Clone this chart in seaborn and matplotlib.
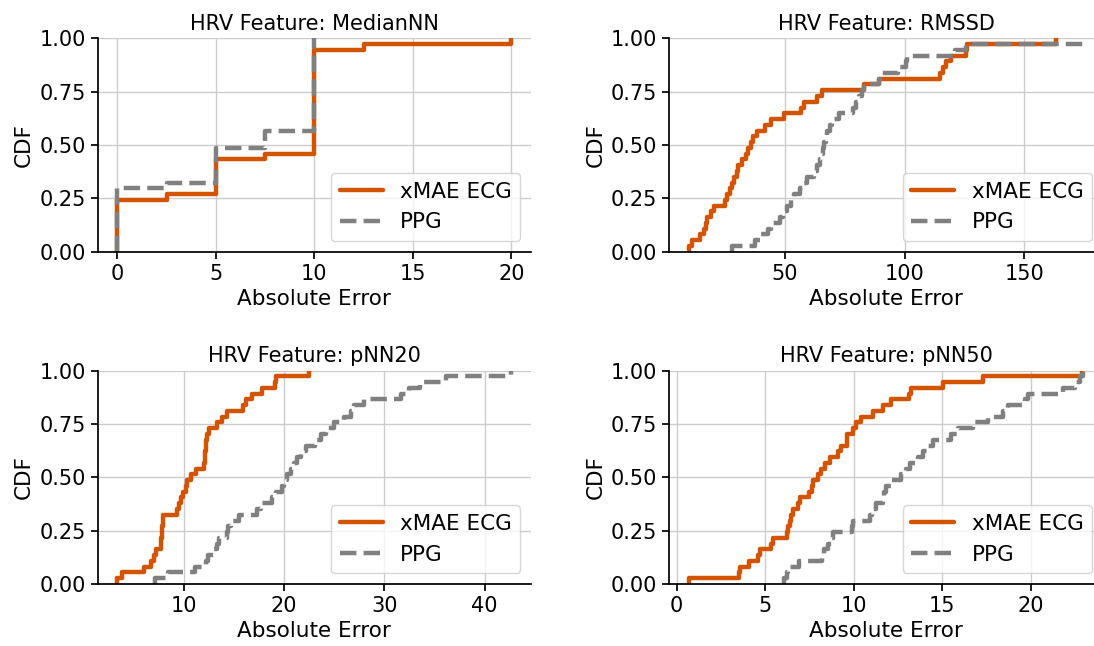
import matplotlib
matplotlib.use("Agg")
import matplotlib.pyplot as plt
import seaborn as sns

# Absolute errors per recording (37 recordings) for each HRV feature
features = ["MedianNN", "RMSSD", "pNN20", "pNN50"]
series_names = ["xMAE ECG", "PPG"]

median_nn_ecg = [0, 0, 0, 0, 0, 0, 0, 0, 0, 2.5, 5, 5, 5, 5, 5, 5, 7.5,
                 10, 10, 10, 10, 10, 10, 10, 10, 10, 10, 10, 10, 10, 10, 10, 10, 10, 10,
                 12.5, 20]
median_nn_ppg = [0, 0, 0, 0, 0, 0, 0, 0, 0, 0, 0, 2.5, 5, 5, 5, 5, 5, 5,
                 7.5, 7.5, 7.5,
                 10, 10, 10, 10, 10, 10, 10, 10, 10, 10, 10, 10, 10, 10, 10, 10]

rmssd_ecg = [10.0, 11.4, 14.6, 16.3, 17.0, 17.7, 19.1, 20.5, 24.9, 26.0,
             27.1, 28.1, 28.8, 29.9, 30.5, 32.3, 33.7, 34.7, 35.8, 36.9,
             38.2, 41.6, 44.1, 49.7, 56.7, 58.1, 63.6, 65.3, 82.9, 89.4,
             114.9, 115.9, 117.3, 119.4, 125.6, 126.1, 163.2]
rmssd_ppg = [28.1, 37.5, 40.0, 42.8, 44.4, 48.1, 49.4, 51.1, 52.5, 53.9,
             56.4, 57.8, 59.2, 62.0, 63.4, 64.5, 65.3, 65.9, 66.4, 67.1,
             67.8, 68.7, 69.5, 72.7, 78.3, 79.7, 81.1, 82.2, 83.2, 89.4,
             89.8, 97.4, 100.6, 101.0, 120.8, 125.6, 174.4]

pnn20_ecg = [3.35, 3.85, 6.0, 6.7, 7.0, 7.2, 7.7, 7.74, 7.78, 7.84,
             7.88, 7.91, 9.27, 9.5, 9.67, 9.94, 10.17, 10.34, 10.67, 11.17,
             12.03, 12.07, 12.1, 12.17, 12.23, 12.33, 12.5, 13.27, 13.83, 14.33,
             15.93, 16.16, 16.76, 17.82, 19.09, 19.19, 22.48]
pnn20_ppg = [7.08, 8.41, 11.07, 12.17, 12.4, 13.0, 13.27, 13.5, 14.33, 14.43,
             14.66, 15.5, 17.3, 17.66, 18.8, 19.15, 19.82, 19.98, 20.32, 20.65,
             20.98, 21.3, 21.65, 22.15, 23.05, 23.64, 24.14, 24.97, 25.97, 26.64,
             26.97, 27.97, 31.63, 32.46, 33.6, 36.1, 42.67]

pnn50_ecg = [0.70, 3.52, 3.6, 4.08, 4.61, 4.70, 5.36, 5.46, 6.21, 6.3,
             6.4, 6.45, 6.59, 6.87, 6.96, 7.47, 7.62, 7.71, 8.0, 8.18,
             8.41, 8.65, 9.09, 9.31, 9.6, 9.65, 9.97, 10.16, 10.44, 11.1,
             11.67, 12.1, 13.11, 13.23, 15.05, 17.31, 22.92]
pnn50_ppg = [6.08, 6.21, 6.3, 6.9, 8.22, 8.33, 8.56, 8.79, 8.84, 9.92,
             9.97, 10.91, 11.04, 11.29, 11.66, 11.72, 11.8, 12.14, 12.66, 12.98,
             13.17, 13.64, 13.92, 14.2, 14.49, 15.48, 15.9, 16.75, 17.59, 18.44,
             18.72, 19.66, 19.85, 21.82, 22.48, 22.77, 22.95]

cdf_ticks = [0, 0.25, 0.5, 0.75, 1.0]

errors = {
    "MedianNN": (median_nn_ecg, median_nn_ppg),
    "RMSSD": (rmssd_ecg, rmssd_ppg),
    "pNN20": (pnn20_ecg, pnn20_ppg),
    "pNN50": (pnn50_ecg, pnn50_ppg),
}

line_colors = ["#d35400", "#808080"]
line_styles = ["-", "--"]

sns.set_theme(style="ticks", rc={
    "axes.grid": True,
    "grid.color": "#cccccc",
    "grid.linewidth": 1.0,
    "axes.edgecolor": "black",
    "axes.linewidth": 1.25,
    "text.color": "black",
    "axes.labelcolor": "black",
    "xtick.color": "black",
    "ytick.color": "black",
    "xtick.major.size": 5,
    "ytick.major.size": 5,
    "axes.titlesize": 15,
    "axes.labelsize": 15.5,
    "xtick.labelsize": 15,
    "ytick.labelsize": 15,
    "legend.fontsize": 15.5,
})
plt.rcParams["font.family"] = ["DejaVu Sans"]

fig = plt.figure(figsize=(10.94, 6.46), dpi=100)
gs = fig.add_gridspec(2, 2, left=0.0893, right=1.0079, top=0.9407, bottom=0.0960,
                      wspace=0.319, hspace=0.557)

for i, feat in enumerate(features):
    ax = fig.add_subplot(gs[i // 2, i % 2])
    for vals, name, col, ls in zip(errors[feat], series_names, line_colors, line_styles):
        sns.ecdfplot(x=vals, ax=ax, color=col, linewidth=3.2, linestyle=ls, label=name)
    ax.set_title(f"HRV Feature: {feat}")
    ax.set_xlabel("Absolute Error")
    ax.set_ylabel("CDF")
    ax.set_yticks(cdf_ticks)
    ax.set_ylim(0, 1)
    ax.legend(loc="lower right")
    sns.despine(ax=ax)

fig.savefig("out.png", dpi=100)
